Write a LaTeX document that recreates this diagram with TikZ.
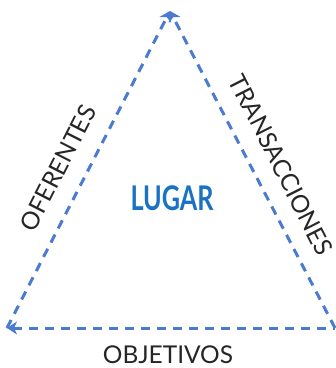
\documentclass[tikz,border=0pt]{standalone}
\usepackage{fontspec}
\setmainfont{Lato}
\usetikzlibrary{arrows.meta,positioning,calc}
\definecolor{lineblue}{HTML}{4A7BD0}
\definecolor{titleblue}{HTML}{1A72C4}
\tikzset{
  side/.style  ={draw=lineblue, line width=3pt, dash pattern=on 9pt off 7pt},
  tip/.style   ={-{Stealth[length=10pt,width=13pt,inset=3pt]}},
  lbl/.style   ={font=\fontsize{24.5}{27}\selectfont, text=black!85, inner sep=0pt},
  ttl/.style   ={font=\fontsize{34}{36}\selectfont\bfseries, text=titleblue,
                 xscale=0.74, inner sep=0pt},
}

\begin{document}
\begin{tikzpicture}[x=1pt,y=1pt]
\useasboundingbox (0,0) rectangle (336,368);
\coordinate (top) at (170,357);
\coordinate (bl) at (7,40);
\coordinate (br) at (335,40);

\draw[side,tip] (bl) -- (top);
\draw[side,tip] (br) -- (top);
\draw[side,tip,{Stealth[length=10pt,width=13pt,inset=3pt]}-] (bl) -- (br);

\node[ttl] (lugar) at (172,170) {LUGAR};
\node[lbl] (obj) at (168,13) {OBJETIVOS};
\node[lbl, rotate=63] (ofe) at (58,200) {OFERENTES};
\node[lbl, rotate=-63] (tra) at (281,203) {TRANSACCIONES};
\end{tikzpicture}
\end{document}
